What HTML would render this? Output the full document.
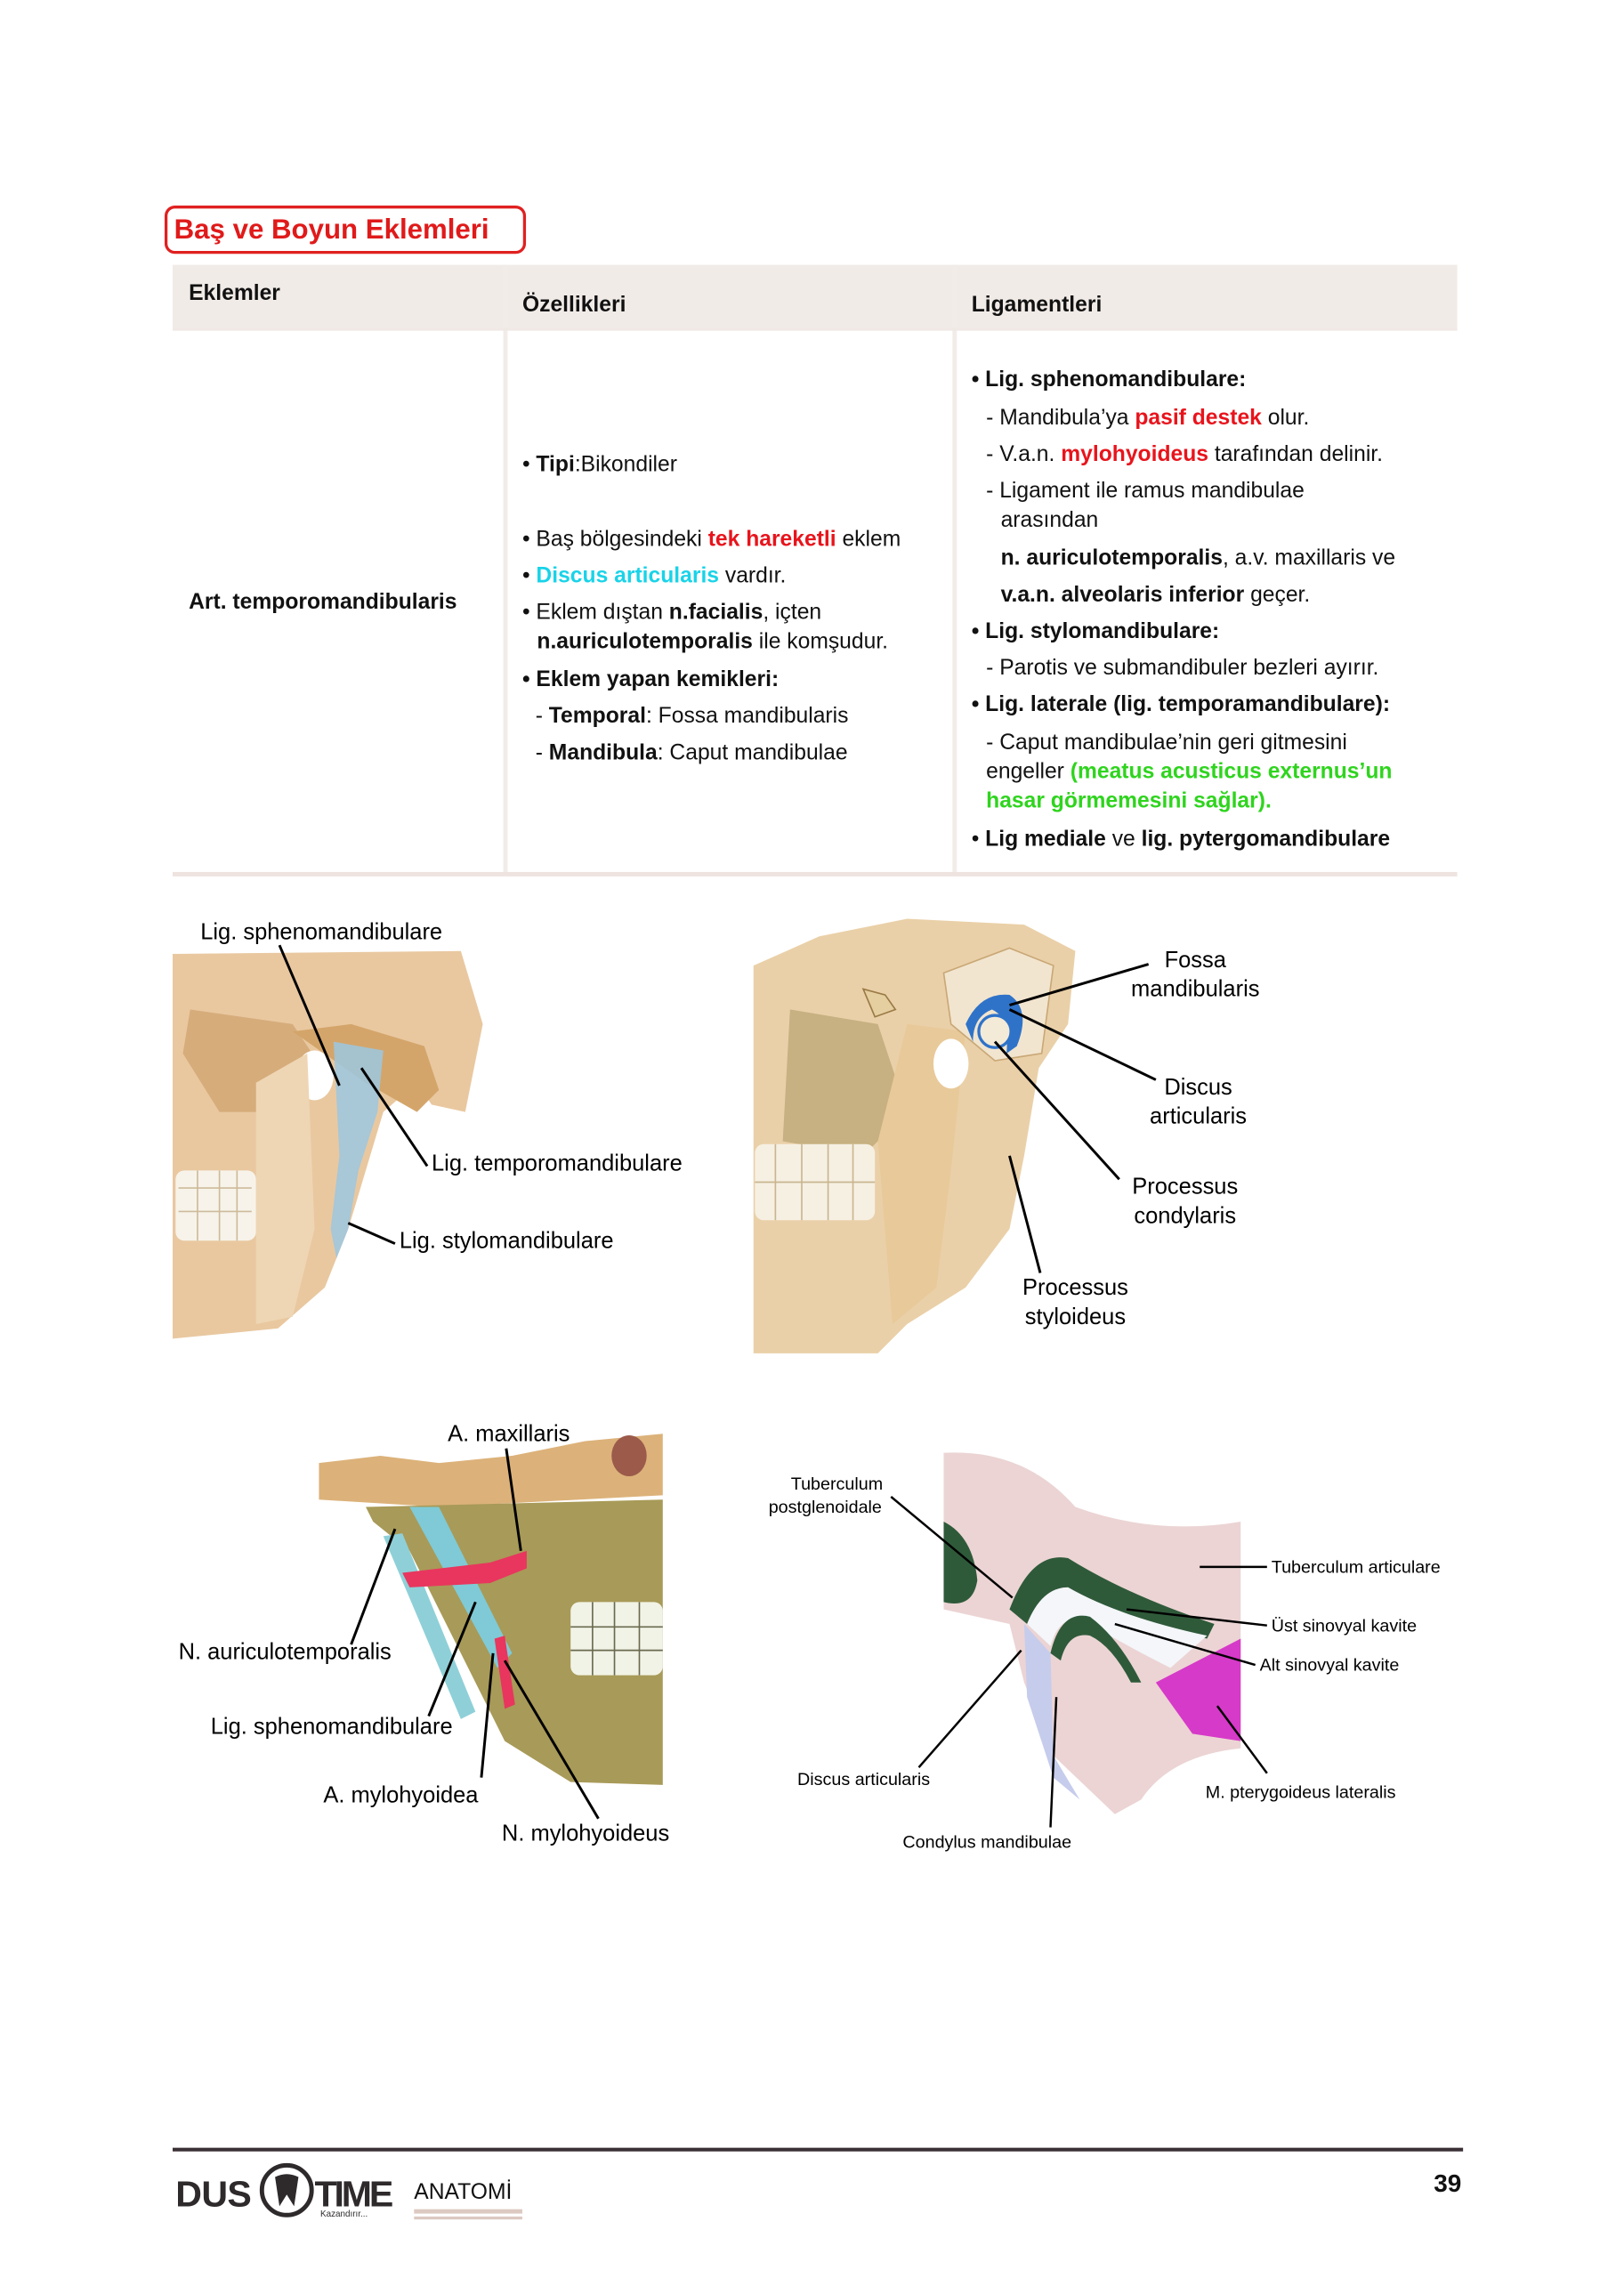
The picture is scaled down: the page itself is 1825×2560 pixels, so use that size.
<!DOCTYPE html>
<html><head><meta charset="utf-8"><style>
html,body{margin:0;padding:0;background:#fff}
svg{display:block}
text{font-family:"Liberation Sans",sans-serif}
.t{font-size:15px;fill:#111}
.b{font-weight:bold}
.lab{font-size:15.5px;fill:#000}
.sm{font-size:12px;fill:#000}
line.c{stroke:#000;stroke-width:1.8}
</style></head><body>
<svg width="1825" height="2560" viewBox="0 0 1110 1557" xmlns="http://www.w3.org/2000/svg">
<rect width="1110" height="1557" fill="#fff"/>
<rect x="113.5" y="141.5" width="245" height="31" rx="6" fill="#fff" stroke="#e02020" stroke-width="2"/>
<text x="119" y="163" font-size="19" font-weight="bold" fill="#e01a1a">Baş ve Boyun Eklemleri</text>
<rect x="118" y="181" width="878" height="43" fill="#f1ebe7"/>
<rect x="344" y="181" width="3" height="417" fill="#f2ece9"/>
<rect x="651" y="181" width="3" height="417" fill="#f2ece9"/>
<rect x="118" y="224" width="878" height="2" fill="#efe8e4"/>
<rect x="118" y="596" width="878" height="3" fill="#eee3de"/>
<text class="t b" x="129" y="205">Eklemler</text>
<text class="t b" x="357" y="213">Özellikleri</text>
<text class="t b" x="664" y="213">Ligamentleri</text>
<text class="t b" x="129" y="416">Art. temporomandibularis</text>
<g class="t">
<text x="357" y="322">• <tspan class="b">Tipi</tspan>:Bikondiler</text>
<text x="357" y="373">• Baş bölgesindeki <tspan class="b" fill="#e8141c">tek hareketli</tspan> eklem</text>
<text x="357" y="398">• <tspan class="b" fill="#19d3e8">Discus articularis</tspan> vardır.</text>
<text x="357" y="423">• Eklem dıştan <tspan class="b">n.facialis</tspan>, içten</text>
<text x="367" y="443"><tspan class="b">n.auriculotemporalis</tspan> ile komşudur.</text>
<text x="357" y="469" class="b">• Eklem yapan kemikleri:</text>
<text x="366" y="494">- <tspan class="b">Temporal</tspan>: Fossa mandibularis</text>
<text x="366" y="519">- <tspan class="b">Mandibula</tspan>: Caput mandibulae</text>
<text x="664" y="264" class="b">• Lig. sphenomandibulare:</text>
<text x="674" y="290">- Mandibula’ya <tspan class="b" fill="#e8141c">pasif destek</tspan> olur.</text>
<text x="674" y="315">- V.a.n. <tspan class="b" fill="#e8141c">mylohyoideus</tspan> tarafından delinir.</text>
<text x="674" y="340">- Ligament ile ramus mandibulae</text>
<text x="684" y="360">arasından</text>
<text x="684" y="386"><tspan class="b">n. auriculotemporalis</tspan>, a.v. maxillaris ve</text>
<text x="684" y="411"><tspan class="b">v.a.n. alveolaris inferior</tspan> geçer.</text>
<text x="664" y="436" class="b">• Lig. stylomandibulare:</text>
<text x="674" y="461">- Parotis ve submandibuler bezleri ayırır.</text>
<text x="664" y="486" class="b">• Lig. laterale (lig. temporamandibulare):</text>
<text x="674" y="512">- Caput mandibulae’nin geri gitmesini</text>
<text x="674" y="532">engeller <tspan class="b" fill="#2fd41e">(meatus acusticus externus’un</tspan></text>
<text x="674" y="552" class="b" fill="#2fd41e">hasar görmemesini sağlar).</text>
<text x="664" y="578">• <tspan class="b">Lig mediale</tspan> ve <tspan class="b">lig. pytergomandibulare</tspan></text>
</g>

<path d="M118,652 L315,650 L330,700 L318,760 L295,755 L285,740 L262,760 L250,800 L238,840 L222,880 L190,908 L118,915 Z" fill="#e9c8a0"/>
<path d="M130,690 L200,700 L220,730 L205,760 L150,760 L125,720 Z" fill="#c99a62" opacity=".6"/>
<path d="M200,705 L240,700 L290,715 L300,745 L285,760 L250,740 Z" fill="#d4a56a"/>
<ellipse cx="215" cy="735" rx="13" ry="17" fill="#fff"/>
<path d="M228,712 L262,718 L258,760 L245,800 L238,840 L230,860 L226,840 L232,790 Z" fill="#9cc7e0" opacity=".85"/>
<rect x="120" y="800" width="55" height="48" rx="6" fill="#f7f3ea"/>
<path d="M122,812 H172 M122,828 H172 M135,800 V848 M150,800 V848 M162,800 V848" stroke="#cdbb9a" stroke-width="1"/>
<path d="M175,740 L210,720 L215,840 L200,900 L175,905 Z" fill="#eed6b4"/>
<path d="M515,660 L560,640 L620,628 L700,632 L735,650 L730,700 L710,730 L700,790 L690,840 L660,880 L620,905 L600,925 L515,925 Z" fill="#ead0a8"/>
<path d="M540,690 L600,700 L620,760 L590,790 L535,780 Z" fill="#a99560" opacity=".55"/>
<path d="M620,700 L660,705 L650,800 L640,880 L610,905 L600,780 Z" fill="#e8c999"/>
<path d="M645,665 L690,648 L720,660 L712,720 L680,725 L650,700 Z" fill="#f2e5cf" stroke="#c9a877"/>
<path d="M660,700 Q670,678 690,680 Q705,690 695,715 L688,720 Q690,695 678,690 Q665,695 665,712 Z" fill="#2f73c9"/>
<circle cx="680" cy="705" r="11" fill="#f3ead8" stroke="#2f73c9" stroke-width="2"/>
<ellipse cx="650" cy="727" rx="12" ry="17" fill="#fff"/>
<path d="M590,676 L605,680 L612,690 L598,695 Z" fill="#e5cfa0" stroke="#9a7a45"/>
<rect x="516" y="782" width="82" height="52" rx="6" fill="#f6f0e3"/>
<path d="M516,808 H598 M530,782 V834 M548,782 V834 M566,782 V834 M583,782 V834" stroke="#c9b68f" stroke-width="1"/>
<path d="M218,1000 L260,995 L300,1000 L350,995 L400,985 L453,980 L453,1022 L300,1030 L218,1025 Z" fill="#dcb27a"/>
<ellipse cx="430" cy="995" rx="12" ry="14" fill="#9b5a4a"/>
<path d="M250,1030 L453,1025 L453,1220 L390,1218 L345,1190 L320,1140 L280,1060 L255,1040 Z" fill="#a89a58"/>
<rect x="390" y="1095" width="63" height="50" rx="6" fill="#f1f3e6"/>
<path d="M390,1112 H453 M390,1128 H453 M405,1095 V1145 M420,1095 V1145 M437,1095 V1145" stroke="#6a6a50" stroke-width="1"/>
<path d="M280,1030 L300,1030 L350,1130 L340,1140 Z" fill="#7fcad6"/>
<path d="M262,1050 L275,1048 L325,1170 L315,1175 Z" fill="#8fd0d8"/>
<path d="M275,1075 L335,1068 L360,1060 L360,1072 L335,1082 L280,1085 Z" fill="#e8365e"/>
<path d="M338,1120 L345,1118 L352,1165 L345,1168 Z" fill="#e8365e"/>
<path d="M645,993 Q700,990 735,1030 Q790,1050 848,1040 L848,1195 Q800,1200 780,1230 L762,1240 L720,1200 L700,1150 L690,1110 L645,1100 Z" fill="#ecd4d4"/>
<path d="M645,1040 Q665,1050 668,1080 Q665,1100 645,1095 Z" fill="#2f5a3a"/>
<path d="M690,1100 Q705,1060 730,1065 Q770,1090 830,1110 L825,1120 Q765,1105 730,1085 Q712,1085 702,1110 Z" fill="#2f5a3a"/>
<path d="M702,1110 Q712,1085 730,1085 Q765,1105 825,1118 L800,1140 Q770,1125 745,1110 Q725,1100 718,1125 Z" fill="#f4f6fa"/>
<path d="M718,1130 Q725,1100 745,1105 Q765,1120 780,1150 L773,1150 Q760,1125 745,1118 Q730,1115 725,1135 Z" fill="#2f5a3a"/>
<path d="M700,1110 L718,1130 L720,1200 L738,1230 L720,1215 L702,1160 Z" fill="#c6ccec"/>
<path d="M790,1150 L848,1120 L848,1190 L815,1185 Z" fill="#d63ac8"/>

<g>
<line class="c" x1="191" y1="646" x2="232" y2="742"/>
<line class="c" x1="247" y1="730" x2="292" y2="797"/>
<line class="c" x1="238" y1="836" x2="270" y2="850"/>
<text class="lab" x="137" y="642">Lig. sphenomandibulare</text>
<text class="lab" x="295" y="800">Lig. temporomandibulare</text>
<text class="lab" x="273" y="853">Lig. stylomandibulare</text>
<line class="c" x1="785" y1="659" x2="690" y2="687"/>
<line class="c" x1="790" y1="738" x2="690" y2="690"/>
<line class="c" x1="765" y1="806" x2="680" y2="712"/>
<line class="c" x1="711" y1="870" x2="690" y2="790"/>
<g class="lab" text-anchor="middle">
<text x="817" y="661">Fossa</text><text x="817" y="681">mandibularis</text>
<text x="819" y="748">Discus</text><text x="819" y="768">articularis</text>
<text x="810" y="816">Processus</text><text x="810" y="836">condylaris</text>
<text x="735" y="885">Processus</text><text x="735" y="905">styloideus</text>
</g>
<line class="c" x1="346" y1="990" x2="356" y2="1060"/>
<line class="c" x1="240" y1="1124" x2="270" y2="1045"/>
<line class="c" x1="293" y1="1173" x2="325" y2="1095"/>
<line class="c" x1="329" y1="1215" x2="337" y2="1130"/>
<line class="c" x1="409" y1="1243" x2="345" y2="1135"/>
<text class="lab" x="306" y="985" font-size="14.5">A. maxillaris</text>
<text class="lab" x="122" y="1134" font-size="14.5">N. auriculotemporalis</text>
<text class="lab" x="144" y="1185" font-size="14.5">Lig. sphenomandibulare</text>
<text class="lab" x="221" y="1232" font-size="14.5">A. mylohyoidea</text>
<text class="lab" x="343" y="1258" font-size="14.5">N. mylohyoideus</text>
<g stroke="#000" stroke-width="1.5">
<line x1="609" y1="1023" x2="692" y2="1092"/>
<line x1="820" y1="1071" x2="866" y2="1071"/>
<line x1="770" y1="1100" x2="866" y2="1111"/>
<line x1="762" y1="1110" x2="858" y2="1138"/>
<line x1="628" y1="1208" x2="698" y2="1128"/>
<line x1="718" y1="1249" x2="722" y2="1160"/>
<line x1="866" y1="1212" x2="832" y2="1166"/>
</g>
<text class="sm" x="572" y="1018" text-anchor="middle">Tuberculum</text>
<text class="sm" x="564" y="1034" text-anchor="middle">postglenoidale</text>
<text class="sm" x="869" y="1075">Tuberculum articulare</text>
<text class="sm" x="869" y="1115">Üst sinovyal kavite</text>
<text class="sm" x="861" y="1142">Alt sinovyal kavite</text>
<text class="sm" x="545" y="1220">Discus articularis</text>
<text class="sm" x="617" y="1263">Condylus mandibulae</text>
<text class="sm" x="824" y="1229">M. pterygoideus lateralis</text>
</g>

<rect x="118" y="1468" width="882" height="2.5" fill="#3a3035"/>
<text x="120" y="1508" font-size="25" font-weight="bold" fill="#2e2a2c" textLength="52">DUS</text>
<circle cx="196" cy="1497" r="17" fill="none" stroke="#2e2a2c" stroke-width="3"/>
<path d="M188,1488 Q196,1484 204,1488 L201,1508 L196,1500 L191,1508 Z" fill="#2e2a2c"/>
<text x="215" y="1508" font-size="25" font-weight="bold" fill="#2e2a2c" textLength="54">TIME</text>
<text x="219" y="1515" font-size="6" fill="#2e2a2c">Kazandırır...</text>
<text x="283" y="1503" font-size="15" fill="#111">ANATOMİ</text>
<rect x="283" y="1510" width="74" height="3" fill="#dcc9c1"/>
<rect x="283" y="1515" width="74" height="2" fill="#dcc9c1"/>
<text x="980" y="1498" font-size="17" font-weight="bold" fill="#111">39</text>
</svg>
</body></html>
